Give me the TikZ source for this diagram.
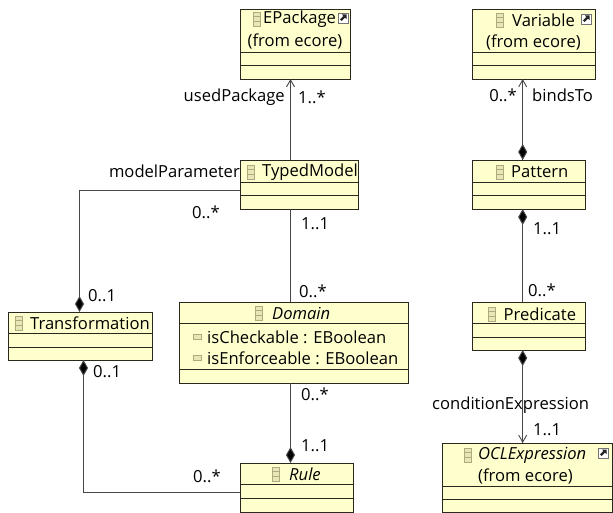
\documentclass[tikz,border=0pt]{standalone}
\usepackage{fontspec}
\setmainfont{Open Sans}
\usetikzlibrary{arrows.meta}
\definecolor{boxfill}{RGB}{255,255,206}
\definecolor{boxline}{RGB}{40,40,30}
\definecolor{iconc}{RGB}{175,170,125}
\tikzset{
  umlbox/.style={draw=boxline,fill=boxfill,line width=0.9pt,inner sep=0,outer sep=0,anchor=north west},
  sep/.style={draw=boxline,line width=0.9pt},
  lbl/.style={font=\fontsize{16.6}{19}\selectfont,inner sep=0,text=black},
  ilbl/.style={font=\fontsize{16.6}{19}\selectfont\itshape,inner sep=0,text=black},
  conn/.style={draw=black!72,line width=1pt},
  comp/.style={-{Diamond[fill=black,length=16pt,width=9pt]}},
  nav/.style={-{Straight Barb[length=7pt,width=8pt,line width=0.9pt]}}
}
% name, x0, y0, x1, y1, sep1, sep2
\newcommand{\umlb}[7]{%
  \pgfmathsetlengthmacro{\bw}{#4-#2}\pgfmathsetlengthmacro{\bh}{#5-#3}%
  \node[umlbox,minimum width=\bw,minimum height=\bh] (#1) at (#2,#3) {};
  \draw[sep] (#2,#6) -- (#4,#6);
  \draw[sep] (#2,#7) -- (#4,#7);
}
\newcommand{\clsicon}[2]{%
  \draw[draw=iconc,fill=boxfill!70!iconc,line width=0.8pt] (#1-3.5,#2-7) rectangle (#1+3.5,#2+7);
  \draw[draw=iconc,line width=0.8pt] (#1-3.5,#2-2.5) -- (#1+3.5,#2-2.5) (#1-3.5,#2+2.5) -- (#1+3.5,#2+2.5);
}
\newcommand{\attricon}[2]{%
  \draw[draw=iconc,fill=boxfill!70!iconc,line width=0.8pt] (#1-4,#2-2.5) rectangle (#1+4,#2+2.5);
}
\newcommand{\linkicon}[2]{%
  \draw[draw=black!55,fill=white,line width=0.8pt] (#1-5,#2-5) rectangle (#1+5,#2+5);
  \fill[black!85] (#1+3.5,#2-3.5) -- (#1-1,#2-3.5) -- (#1+0.3,#2-2) -- (#1-3,#2+1.5) -- (#1-1.5,#2+3) -- (#1+2,#2-0.3) -- (#1+3.5,#2+1) -- cycle;
}
\begin{document}
\begin{tikzpicture}[x=1pt,y=-1pt]
\useasboundingbox (0,0) rectangle (613,513);
\umlb{epackage}{240}{9}{350}{79}{52}{65}
\umlb{variable}{472.5}{9}{595}{79}{52}{65}
\umlb{typedmodel}{240}{160}{358}{209}{182}{195}
\umlb{pattern}{472.5}{160}{585}{209}{182}{195}
\umlb{domain}{179.5}{302}{408}{383}{323}{369}
\umlb{transformation}{8}{312}{152}{360}{333}{347}
\umlb{predicate}{472.5}{302}{585}{350}{323}{337}
\umlb{rule}{240}{463}{353}{512}{484}{498}
\umlb{oclexpr}{442}{443}{612}{512}{486}{499}

% connector guides
\coordinate (ax) at (290.5,0);
\coordinate (bx) at (522.7,0);
\coordinate (tmy) at (0,190.5);
\coordinate (ruley) at (0,492.5);
\coordinate (trup) at (79.5,190.5);
\coordinate (trdown) at (83.5,492.5);
\coordinate (condmid) at (522.7,395);

\draw[conn,nav] (typedmodel.north -| ax) -- (epackage.south -| ax);
\draw[conn,comp] (typedmodel.west |- tmy) -- (trup) -- (trup |- transformation.north);
\draw[conn] (typedmodel.south -| ax) -- (domain.north -| ax);
\draw[conn,comp] (domain.south -| ax) -- (rule.north -| ax);
\draw[conn,comp] (rule.west |- ruley) -- (trdown) -- (trdown |- transformation.south);
\draw[conn,nav] (pattern.north -| bx) -- (variable.south -| bx);
\draw[conn,comp] (variable.south -| bx) -- (pattern.north -| bx);
\draw[conn,comp] (predicate.north -| bx) -- (pattern.south -| bx);
\draw[conn,comp] (oclexpr.north -| bx) -- (predicate.south -| bx);
\draw[conn,nav] (condmid) -- (oclexpr.north -| bx);

% headers
\clsicon{257}{19}
\node[lbl,anchor=west] (t1) at (263,19) {EPackage};
\linkicon{343}{18}
\node[lbl] (t1b) at (295,41) {(from ecore)};
\clsicon{500}{20}
\node[lbl,anchor=west] (t2) at (512,20) {Variable};
\linkicon{586}{19}
\node[lbl] (t2b) at (533.5,42) {(from ecore)};
\clsicon{251}{172}
\node[lbl,anchor=west] (t3) at (262,172) {TypedModel};
\clsicon{500}{172}
\node[lbl,anchor=west] (t4) at (511,172) {Pattern};
\clsicon{259}{313}
\node[ilbl,anchor=west] (t5) at (272,313) {Domain};
\attricon{197}{337}
\node[lbl,anchor=west] (t6) at (207,337) {isCheckable : EBoolean};
\attricon{197}{358}
\node[lbl,anchor=west] (t7) at (207,358) {isEnforceable : EBoolean};
\clsicon{19}{323}
\node[lbl,anchor=west] (t8) at (30,323) {Transformation};
\clsicon{491.5}{314}
\node[lbl,anchor=west] (t9) at (503.5,314) {Predicate};
\clsicon{276}{474}
\node[ilbl,anchor=west] (t10) at (289,474) {Rule};
\clsicon{468}{455}
\node[ilbl,anchor=west] (t11) at (478,455) {OCLExpression};
\linkicon{603}{453}
\node[lbl,anchor=west] (t11b) at (478,476) {(from ecore)};

% connector labels
\node[lbl,anchor=east] (l1) at (285,97) {usedPackage};
\node[lbl,anchor=west] (l2) at (298,97) {1..*};
\node[lbl,anchor=east] (l3) at (240,171) {modelParameter};
\node[lbl,anchor=west] (l4) at (192,212) {0..*};
\node[lbl,anchor=west] (l5) at (301,224) {1..1};
\node[lbl,anchor=west] (l6) at (299,291) {0..*};
\node[lbl,anchor=west] (l7) at (88,296) {0..1};
\node[lbl,anchor=west] (l8) at (93,372) {0..1};
\node[lbl,anchor=west] (l9) at (301,394) {0..*};
\node[lbl,anchor=west] (l10) at (301,446) {1..1};
\node[lbl,anchor=west] (l11) at (193,476) {0..*};
\node[lbl,anchor=east] (l12) at (517,95) {0..*};
\node[lbl,anchor=west] (l13) at (532,95) {bindsTo};
\node[lbl,anchor=west] (l14) at (533,229) {1..1};
\node[lbl,anchor=west] (l15) at (528,290) {0..*};
\node[lbl,anchor=west] (l16) at (432,405) {conditionExpression};
\node[lbl,anchor=west] (l17) at (533,430) {1..1};
\end{tikzpicture}
\end{document}
